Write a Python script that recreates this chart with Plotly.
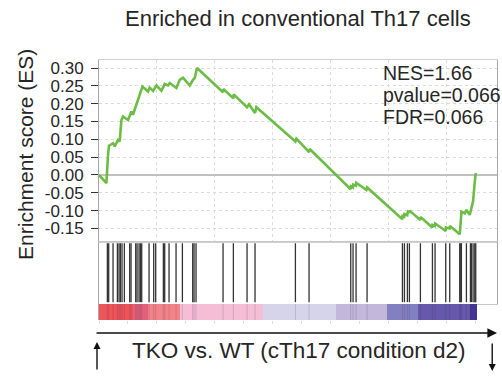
import plotly.graph_objects as go

# ---- data (x in gene-rank units) ----
es_rank = [0, 256, 311, 345, 485, 542, 657, 715, 774, 829, 1002, 1119, 1174, 1292, 1406, 1499,
           1692, 1751, 1866, 1983, 2155, 2269, 2383, 2442, 2673, 2787, 2901, 3133, 3247, 3306, 3385,
           4228, 4284, 4295, 4628, 4641, 4650, 5091, 5113, 5181, 5378, 5389, 5437, 6760, 6783, 6818,
           7240, 7254, 7278, 8690, 8700, 8770, 8780, 8874, 8885, 9236, 9260,
           10445, 10479, 10485, 10540, 10550, 10645, 10655, 10673, 10715, 10725, 11095, 11105,
           11481, 11515, 11520, 11600, 11610, 11940, 11975, 11980, 12110, 12120, 12400,
           12458, 12493, 12517, 12631, 12689, 12804, 12862, 12919, 12977, 13011]
es_value = [0.000, -0.023, 0.056, 0.082, 0.089, 0.080, 0.098, 0.094, 0.154, 0.164, 0.154, 0.178, 0.169, 0.197, 0.220, 0.248,
            0.234, 0.245, 0.236, 0.251, 0.236, 0.255, 0.251, 0.258, 0.244, 0.267, 0.273, 0.251, 0.267, 0.272, 0.300,
            0.238, 0.232, 0.241, 0.218, 0.215, 0.226, 0.192, 0.190, 0.198, 0.176, 0.174, 0.190, 0.098, 0.094, 0.102,
            0.066, 0.064, 0.073, -0.040, -0.032, -0.035, -0.027, -0.030, -0.022, -0.042, -0.035,
            -0.122, -0.124, -0.115, -0.117, -0.110, -0.113, -0.106, -0.103, -0.106, -0.100, -0.126, -0.118,
            -0.145, -0.148, -0.140, -0.143, -0.136, -0.154, -0.157, -0.147, -0.150, -0.143, -0.164,
            -0.166, -0.130, -0.103, -0.108, -0.098, -0.112, -0.094, -0.074, -0.019, 0.005]

hit_rank = [289, 335, 485, 635, 692, 738, 795, 876, 1060, 1106, 1268, 1314, 1383, 1429, 1475,
            1728, 1889, 1958, 2223, 2269, 2419, 2661, 2880, 3236, 3282, 3351, 4284, 4641, 5113, 5389,
            6783, 7254, 8694, 8774, 8878, 9258, 10479, 10548, 10651, 10720, 11100, 11515, 11606,
            11975, 12113, 12458, 12493, 12516, 12689, 12827, 12862, 12919, 12977, 13011]

bar_edges = [0, 1174, 1692, 2812, 5665, 8200, 9961, 11018, 12804, 13056]
bar_colors = ["#ee5459", "#e2607a", "#f28489", "#f6bdd6", "#d6d4ea", "#c3b8dc", "#8380c2", "#6658aa", "#44389a"]

y_ticks = [0.30, 0.25, 0.20, 0.15, 0.10, 0.05, 0.00, -0.05, -0.10, -0.15]
stats_text = ["NES=1.66", "pvalue=0.066", "FDR=0.066"]
title_text = "Enriched in conventional Th17 cells"
xlabel_text = "TKO vs. WT (cTh17 condition d2)"
ylabel_text = "Enrichment score (ES)"

X_MAX = 13745
FONT = "Liberation Sans, Arial, sans-serif"
TXT = "#262626"

fig = go.Figure()

# ES curve
fig.add_trace(go.Scatter(x=es_rank, y=es_value, mode="lines",
                         line=dict(color="#6cbd45", width=2.6),
                         xaxis="x", yaxis="y", showlegend=False, hoverinfo="skip"))

# hits
hx, hy = [], []
for r in hit_rank:
    hx += [r, r, None]
    hy += [0.03, 0.98, None]
fig.add_trace(go.Scatter(x=hx, y=hy, mode="lines", line=dict(color="#333333", width=1.3),
                         xaxis="x2", yaxis="y2", showlegend=False, hoverinfo="skip"))

# colour bar as heatmap
n = len(bar_colors)
cs = []
for i, c in enumerate(bar_colors):
    cs.append([i / n, c])
    cs.append([(i + 1) / n, c])
fig.add_trace(go.Heatmap(x=bar_edges, y=[0, 1], z=[[i + 0.5 for i in range(n)]],
                         zmin=0, zmax=n, colorscale=cs, showscale=False,
                         xaxis="x3", yaxis="y3", hoverinfo="skip"))
# faint hit lines through colour bar
fig.add_trace(go.Scatter(x=hx, y=[v if v is None else (0 if v < 0.5 else 1) for v in hy], mode="lines",
                         line=dict(color="rgba(60,40,80,0.18)", width=1),
                         xaxis="x3", yaxis="y3", showlegend=False, hoverinfo="skip"))

axis_line = "#a8a8a8"
fig.update_layout(
    width=502, height=379,
    margin=dict(l=99, r=5, t=60, b=59),
    paper_bgcolor="white", plot_bgcolor="white",
    font=dict(family=FONT, color=TXT),
    xaxis=dict(domain=[0, 1], range=[0, X_MAX], anchor="y", dtick=2000, tick0=0,
               showticklabels=False, ticks="", showgrid=True, gridcolor="#dcdcdc",
               griddash="dot", zeroline=False, showline=True, linecolor="#d0d0d0", mirror=True),
    yaxis=dict(domain=[0.3, 1], range=[-0.188, 0.3225], anchor="x", tickvals=y_ticks,
               ticktext=["%.2f" % v for v in y_ticks], ticks="outside", ticklen=7,
               ticklabelstandoff=4,
               tickcolor="#333333", tickfont=dict(size=17, family=FONT, color=TXT),
               showgrid=True, gridcolor="#dcdcdc", griddash="dot",
               zeroline=True, zerolinecolor="#c0c0c0", zerolinewidth=1.5,
               showline=True, linecolor=axis_line, mirror=True),
    xaxis2=dict(domain=[0, 1], range=[0, X_MAX], anchor="y2", showticklabels=False,
                ticks="", showgrid=False, zeroline=False, showline=True, linecolor="#c8c8c8", mirror=True),
    yaxis2=dict(domain=[0.0615, 0.3], range=[0, 1], anchor="x2", showticklabels=False,
                ticks="", showgrid=False, zeroline=False, showline=True, linecolor=axis_line, mirror=True),
    xaxis3=dict(domain=[0, 1], range=[0, X_MAX], anchor="y3", showticklabels=False,
                ticks="outside", ticklen=3, tickcolor="#dddddd", dtick=1000,
                showgrid=False, zeroline=False, showline=False),
    yaxis3=dict(domain=[0, 0.0615], range=[0, 1], anchor="x3", showticklabels=False,
                ticks="", showgrid=False, zeroline=False, showline=True, linecolor=axis_line),
)

annotations = [
    dict(text=title_text, xref="paper", yref="paper", x=0.5, y=1, yshift=42,
         showarrow=False, font=dict(size=22, family=FONT, color=TXT), xanchor="center", yanchor="middle"),
    dict(text=ylabel_text, xref="paper", yref="paper", x=0, xshift=-73, y=0.635,
         textangle=-90, showarrow=False, font=dict(size=21, family=FONT, color=TXT),
         xanchor="center", yanchor="middle"),
    dict(text=xlabel_text, xref="paper", yref="paper", x=0.5, y=0, yshift=-30,
         showarrow=False, font=dict(size=22.5, family=FONT, color=TXT), xanchor="center", yanchor="middle"),
]
for i, t in enumerate(stats_text):
    annotations.append(dict(text=t, xref="paper", yref="paper", x=0.708, y=1, yshift=-13 - 22 * i,
                            showarrow=False, font=dict(size=19.5, family=FONT, color=TXT),
                            xanchor="left", yanchor="middle"))
# horizontal arrow
annotations.append(dict(xref="paper", yref="paper", x=1, y=0, ax=-402, ay=0,
                        text="", showarrow=True,
                        arrowhead=2, arrowsize=1.2, arrowwidth=1.6, arrowcolor="#111111",
                        yshift=-13))
# up arrow
annotations.append(dict(xref="paper", yref="paper", x=-0.005, y=0, yshift=-22, ax=0, ay=29,
                        text="", showarrow=True, arrowhead=2, arrowsize=1, arrowwidth=1.4,
                        arrowcolor="#111111"))
# down arrow
annotations.append(dict(xref="paper", yref="paper", x=0.988, y=0, yshift=-51, ax=0, ay=-29,
                        text="", showarrow=True, arrowhead=2, arrowsize=1, arrowwidth=1.4,
                        arrowcolor="#111111"))
fig.update_layout(annotations=annotations)

fig.write_html("out.html")
